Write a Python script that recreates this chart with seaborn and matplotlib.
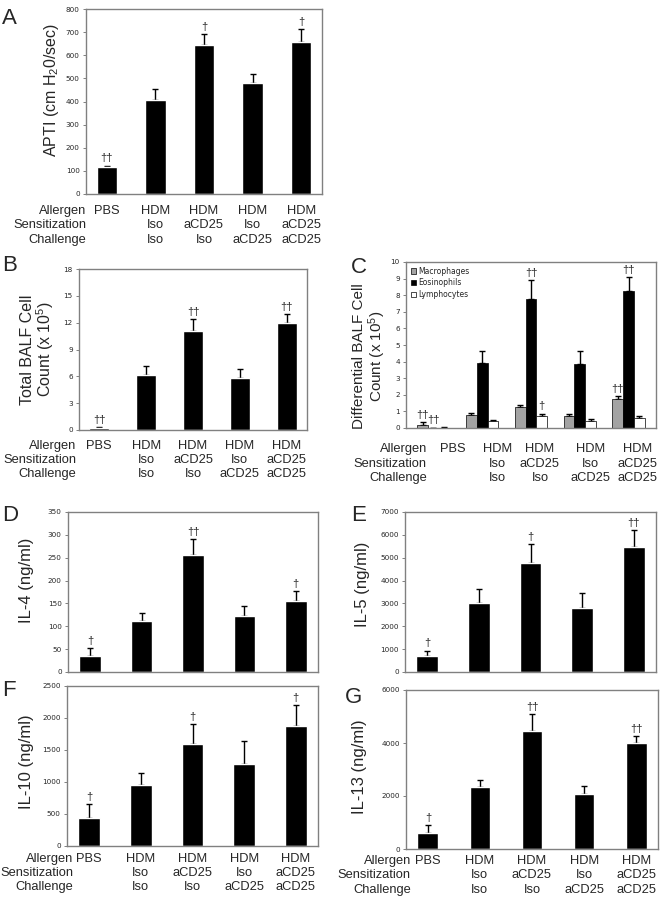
import numpy as np
import pandas as pd
import matplotlib
matplotlib.use("Agg")
import matplotlib.pyplot as plt
import matplotlib.transforms as mtransforms
import seaborn as sns

# ==================================================
# Data
# ==================================================
groups = ["PBS", "HDM\nIso\nIso", "HDM\naCD25\nIso", "HDM\nIso\naCD25", "HDM\naCD25\naCD25"]
row_header = "Allergen\nSensitization\nChallenge"

apti = [118, 407, 643, 480, 658]
apti_err = [5, 47, 50, 38, 55]
apti_sig = ["††", "", "†", "", "†"]

total_balf = [0.25, 6.2, 11.1, 5.8, 12.0]
total_balf_err = [0.05, 0.9, 1.3, 1.0, 1.0]
total_balf_sig = ["††", "", "††", "", "††"]

cell_types = ["Macrophages", "Eosinophils", "Lymphocytes"]
macrophages = [0.2, 0.8, 1.25, 0.7, 1.75]
macrophages_err = [0.15, 0.12, 0.15, 0.12, 0.2]
macrophages_sig = ["††", "", "", "", "††"]
eosinophils = [0.02, 3.9, 7.8, 3.85, 8.25]
eosinophils_err = [0.01, 0.75, 1.1, 0.8, 0.85]
eosinophils_sig = ["††", "", "††", "", "††"]
lymphocytes = [0.03, 0.4, 0.72, 0.45, 0.6]
lymphocytes_err = [0.01, 0.06, 0.15, 0.1, 0.1]
lymphocytes_sig = ["", "", "†", "", ""]

il4 = [35, 112, 255, 123, 156]
il4_err = [17, 18, 35, 21, 21]
il4_sig = ["†", "", "††", "", "†"]

il5 = [680, 3020, 4780, 2800, 5450]
il5_err = [260, 600, 820, 650, 780]
il5_sig = ["†", "", "†", "", "††"]

il10 = [430, 960, 1600, 1280, 1880]
il10_err = [220, 180, 310, 360, 320]
il10_sig = ["†", "", "†", "", "†"]

il13 = [600, 2330, 4450, 2060, 3990]
il13_err = [320, 270, 650, 320, 280]
il13_sig = ["†", "", "††", "", "††"]

# ==================================================
# Style
# ==================================================
sns.set_theme(style="white")
plt.rcParams["font.family"] = ["Liberation Sans", "DejaVu Sans"]
plt.rcParams["mathtext.fontset"] = "custom"
plt.rcParams["mathtext.rm"] = "Liberation Sans"

W, H = 661, 899
fig = plt.figure(figsize=(W / 100, H / 100), dpi=100)
fig.patch.set_facecolor("white")

FRAME = "#808080"
CAT_SIZE = 9.3


def px_axes(left, top, right, bottom):
    return fig.add_axes([left / W, 1 - bottom / H, (right - left) / W, (bottom - top) / H])


def style_axes(ax, ymax, step, ylabel, label_xy, label_size=12):
    ax.set_ylim(0, ymax)
    ticks = np.arange(0, ymax + step / 2, step)
    ax.set_yticks(ticks)
    ax.set_yticklabels([f"{int(v)}" for v in ticks], fontsize=5.2, family="DejaVu Sans")
    ax.tick_params(axis="y", direction="out", length=2.5, width=0.7, color=FRAME,
                   pad=2, left=True)
    for s in ax.spines.values():
        s.set_color(FRAME)
        s.set_linewidth(1)
        s.set_visible(True)
    ax.set_xlabel("")
    ax.set_ylabel(ylabel, fontsize=label_size, va="center", linespacing=1.0)
    ax.yaxis.set_label_coords(*label_xy)


def add_errors(ax, xs, vals, errs):
    ax.errorbar(xs, vals, yerr=[np.zeros(len(errs)), errs], fmt="none",
                ecolor="black", elinewidth=1, capsize=2, capthick=1, zorder=0.5)


def add_sig(ax, xs, tops, sigs):
    for x, t, s in zip(xs, tops, sigs):
        if s:
            ax.annotate(s, xy=(x, t), xytext=(0, 1.5), textcoords="offset points",
                        ha="center", va="bottom", fontsize=8)


def category_labels(ax, show, pad, header_dx, label_dx=None):
    ax.tick_params(axis="x", length=0, pad=pad)
    if not show:
        ax.set_xticklabels([])
        return
    ax.set_xticklabels(groups, fontsize=CAT_SIZE, linespacing=1.25, va="top")
    if label_dx:
        # label shifts in pixels
        for lbl, dx in zip(ax.get_xticklabels(), label_dx):
            off = mtransforms.ScaledTranslation(dx / 100, 0, fig.dpi_scale_trans)
            lbl.set_transform(lbl.get_transform() + off)
    ax.annotate(row_header, xy=(0, 0), xycoords="axes fraction",
                xytext=(header_dx, -pad), textcoords="offset points",
                ha="right", va="top", fontsize=CAT_SIZE, linespacing=1.25,
                multialignment="right", annotation_clip=False)


def single_panel(rect, vals, errs, sigs, ymax, step, ylabel, label_xy,
                 show_cats, pad, header_dx, width=0.42, label_size=12):
    ax = px_axes(*rect)
    sns.barplot(x=groups, y=vals, color="black", saturation=1, width=width,
                errorbar=None, ax=ax)
    bars = ax.containers[0]
    xs = [b.get_x() + b.get_width() / 2 for b in bars]
    add_errors(ax, xs, vals, errs)
    add_sig(ax, xs, np.array(vals) + np.array(errs), sigs)
    style_axes(ax, ymax, step, ylabel, label_xy, label_size)
    category_labels(ax, show_cats, pad, header_dx)
    return ax


# ==================================================
# Panels
# ==================================================
single_panel((86, 9, 322, 194), apti, apti_err, apti_sig, 800, 100,
             "APTI (cm H$\\mathregular{_2}$0/sec)", (-0.145, 0.56), True, 8, 0,
             label_size=11.5)

single_panel((79, 269, 307, 430), total_balf, total_balf_err, total_balf_sig, 18, 3,
             "Total BALF Cell\nCount (x 10$\\mathregular{^5}$)", (-0.18, 0.5), True, 7, -2,
             label_size=11.5)

# Panel C: differential counts
axc = px_axes(406, 262, 656, 428)
df_c = pd.DataFrame({
    "group": groups * 3,
    "count": macrophages + eosinophils + lymphocytes,
    "cell": [c for c in cell_types for _ in groups],
})
sns.barplot(data=df_c, x="group", y="count", hue="cell", hue_order=cell_types,
            palette=["#a3a3a3", "black", "white"], saturation=1, width=0.66,
            edgecolor="black", linewidth=0.5, errorbar=None, ax=axc)
c_vals = [macrophages, eosinophils, lymphocytes]
c_errs = [macrophages_err, eosinophils_err, lymphocytes_err]
c_sigs = [macrophages_sig, eosinophils_sig, lymphocytes_sig]
for cont, v, e, s in zip(axc.containers, c_vals, c_errs, c_sigs):
    xs = [b.get_x() + b.get_width() / 2 for b in cont]
    add_errors(axc, xs, v, e)
    add_sig(axc, xs, np.array(v) + np.array(e), s)
style_axes(axc, 10, 1, "Differential BALF Cell\nCount (x 10$\\mathregular{^5}$)",
           (-0.145, 0.43), label_size=11)
category_labels(axc, True, 11, 15, label_dx=[19, 15, 9, 11, 9])
leg = axc.legend(loc="upper left", frameon=False, title=None,
                 prop={"family": "DejaVu Sans", "size": 5.5},
                 handlelength=0.7, handleheight=0.7, handletextpad=0.3,
                 labelspacing=0.35, borderaxespad=0.4, borderpad=0.2)

single_panel((68, 512, 318, 672), il4, il4_err, il4_sig, 350, 50,
             "IL-4 (ng/ml)", (-0.165, 0.575), False, 5, 0)

single_panel((405, 512, 656, 672), il5, il5_err, il5_sig, 7000, 1000,
             "IL-5 (ng/ml)", (-0.17, 0.55), False, 5, 0)

single_panel((67, 686, 318, 846), il10, il10_err, il10_sig, 2500, 500,
             "IL-10 (ng/ml)", (-0.16, 0.53), True, 5, 4.5)

single_panel((406, 690, 658, 849), il13, il13_err, il13_sig, 6000, 2000,
             "IL-13 (ng/ml)", (-0.185, 0.52), True, 4.5, 3.5, width=0.4)

# Panel letters
for letter, (x, y) in {"A": (2, 8), "B": (2, 255), "C": (351, 257), "D": (2, 505),
                       "E": (351, 505), "F": (2, 680), "G": (345, 687)}.items():
    fig.text(x / W, 1 - y / H, letter, fontsize=16, ha="left", va="top")

fig.savefig("out.png", dpi=100, facecolor="white")
